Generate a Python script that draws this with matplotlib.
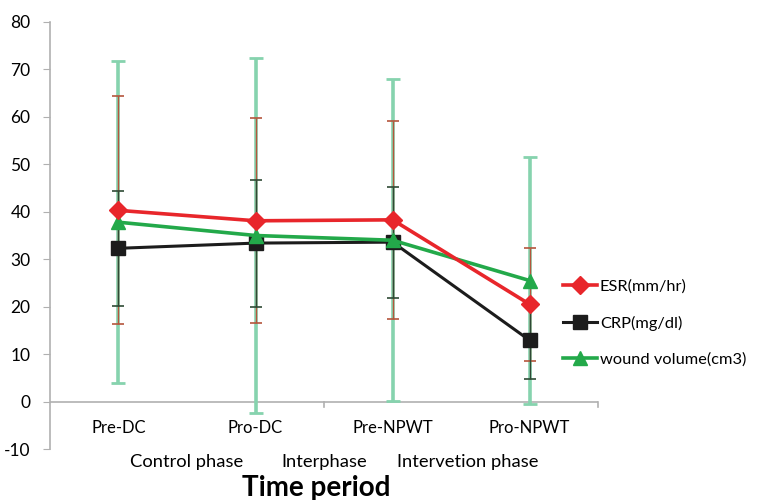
import matplotlib.pyplot as plt
from matplotlib.lines import Line2D

plt.rcParams["font.family"] = ["Lato", "DejaVu Sans"]
plt.rcParams["axes.unicode_minus"] = False

periods = ["Pre-DC", "Pro-DC", "Pre-NPWT", "Pro-NPWT"]
phases = ["Control phase", "Interphase", "Intervetion phase"]

esr = [40.3, 38.1, 38.3, 20.5]
esr_err = [24.0, 21.6, 20.9, 11.9]
crp = [32.3, 33.4, 33.6, 12.9]
crp_err = [12.1, 13.4, 11.7, 8.1]
wound = [37.8, 35.0, 34.0, 25.5]
wound_err = [33.9, 37.5, 33.9, 26.0]

x = list(range(len(periods)))

fig = plt.figure(figsize=(7.64, 5.0), dpi=100)
ax = fig.add_axes([0.0654, 0.102, 0.7176, 0.854])

red = "#e8262b"
black = "#1c1c1c"
green = "#23a94a"

# error bars first
ax.errorbar(x, wound, yerr=wound_err, fmt="none", ecolor="#86d3ae", elinewidth=2.6,
            capsize=5, capthick=2, zorder=1)
ax.errorbar(x, esr, yerr=esr_err, fmt="none", ecolor="#b5553c", elinewidth=1.0,
            capsize=4, capthick=1.2, zorder=2)
ax.errorbar(x, crp, yerr=crp_err, fmt="none", ecolor="#2f4a35", elinewidth=1.0,
            capsize=4, capthick=1.2, zorder=2)

ax.plot(x, crp, color=black, lw=2.2, marker="s", ms=10, zorder=3)
ax.plot(x, wound, color=green, lw=2.6, marker="^", ms=10, zorder=4)
ax.plot(x, esr, color=red, lw=2.6, marker="D", ms=9, zorder=5)

ax.set_xlim(-0.5, 3.5)
ax.set_ylim(-10, 80)
ax.set_yticks(range(-10, 81, 10))
ax.tick_params(axis="y", labelsize=12.5, length=5, color="#b0b0b0", pad=9)
ax.set_xticks([])

for s in ["top", "right", "bottom"]:
    ax.spines[s].set_visible(False)
ax.spines["left"].set_color("#b0b0b0")
ax.spines["left"].set_linewidth(1.2)

ax.axhline(0, color="#b0b0b0", lw=1.2, zorder=0)
for tx in [1.5, 3.5]:
    ax.plot([tx, tx], [0, -1.2], color="#b0b0b0", lw=1.2, clip_on=False, zorder=0)

for i, p in enumerate(periods):
    ax.text(i, -5.6, p, ha="center", va="center", fontsize=12)

phase_x = [0.5, 1.5, 2.55]
for px, ph in zip(phase_x, phases):
    ax.text(px, -12.8, ph, ha="center", va="center", fontsize=13.2, clip_on=False)

ax.text(1.44, -18.2, "Time period", ha="center", va="center", fontsize=20,
        fontweight="bold", clip_on=False)

handles = [
    Line2D([], [], color=red, lw=2.6, marker="D", ms=9),
    Line2D([], [], color=black, lw=2.2, marker="s", ms=10),
    Line2D([], [], color=green, lw=2.6, marker="^", ms=10),
]
labels = ["ESR(mm/hr)", "CRP(mg/dl)", "wound volume(cm3)"]
fig.legend(handles, labels, loc="center left", bbox_to_anchor=(0.722, 0.354),
           frameon=False, fontsize=11.8, handlelength=2.1, handletextpad=0.15,
           labelspacing=1.3, borderpad=0.2)

fig.savefig("out.png", dpi=100)
